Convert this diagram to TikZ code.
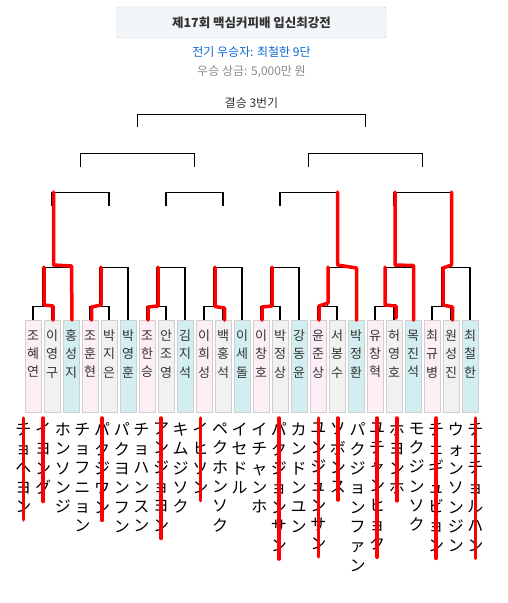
\documentclass[tikz,border=0pt]{standalone}
\usepackage{fontspec}
\setmainfont{Noto Sans CJK KR}
\newfontfamily\jpfont{Noto Sans CJK JP}
\usepackage{tikz}
\usetikzlibrary{positioning}
\definecolor{pinkfill}{HTML}{FCEEF4}
\definecolor{grayfill}{HTML}{F0F1F0}
\definecolor{cyanfill}{HTML}{D3EEF0}
\definecolor{boxline}{HTML}{CFCFCF}
\definecolor{titlefill}{HTML}{F3F6F9}
\definecolor{titleline}{HTML}{C6CACE}
\definecolor{champblue}{HTML}{0A66D2}
\definecolor{prizegray}{HTML}{8A8A8A}
\definecolor{textdark}{HTML}{333333}
\tikzstyle{titlebox} = [rectangle, rounded corners=2pt, 
minimum width=269pt, 
minimum height=31pt, 
fill=titlefill, draw=titleline, 
text=textdark, font=\bfseries\fontsize{12.5}{15}\selectfont]
\tikzstyle{infotext} = [inner sep=0pt, font=\fontsize{12}{14}\selectfont]
\tikzstyle{player} = [rectangle, 
minimum width=16pt, 
minimum height=92pt, 
inner sep=0pt, outer sep=0pt, 
text depth=25pt, align=center, 
draw=boxline, line width=0.8pt, 
text=textdark, font=\fontsize{13}{18.3}\selectfont]
\tikzstyle{pinkbox} = [player, fill=pinkfill]
\tikzstyle{graybox} = [player, fill=grayfill]
\tikzstyle{cyanbox} = [player, fill=cyanfill]
\tikzstyle{kana} = [inner sep=0pt, outer sep=0pt, minimum width=19.65pt, align=center, 
font=\jpfont\fontsize{16}{19.3}\selectfont]
\tikzstyle{bracket} = [draw=black, line width=1.5pt]
\tikzstyle{winner} = [draw=red, line width=3.5pt, line join=round, line cap=round]
\begin{document}
\begin{tikzpicture}[x=1pt, y=-1pt]
        \useasboundingbox (0,0) rectangle (507,603);

        % --- Encabezado ---
        \node (title) [titlebox] at (251.5,22.5) {제17회 맥심커피배 입신최강전};
        \node (champ) [infotext, text=champblue, below=8.5pt of title] {전기 우승자: 최철한 9단};
        \node (prize) [infotext, text=prizegray, below=7pt of champ] {우승 상금: 5,000만 원};
        \node (finlabel) [infotext, text=textdark] at (251.5,103) {결승 3번기};

        % --- Jugadores (fila de cajas) ---
        \node (hyeyeon) [pinkbox, anchor=north] at (33,320) {조\\혜\\연};
        \node (younggu) [graybox, right=3pt of hyeyeon] {이\\영\\구};
        \node (seongji) [cyanbox, right=3pt of younggu] {홍\\성\\지};
        \node (hunhyun) [pinkbox, right=3pt of seongji] {조\\훈\\현};
        \node (jieun) [graybox, right=3pt of hunhyun] {박\\지\\은};
        \node (younghun) [cyanbox, right=3pt of jieun] {박\\영\\훈};
        \node (hanseung) [pinkbox, right=3pt of younghun] {조\\한\\승};
        \node (joyoung) [graybox, right=3pt of hanseung] {안\\조\\영};
        \node (jiseok) [cyanbox, right=3pt of joyoung] {김\\지\\석};
        \node (heeseong) [pinkbox, right=3pt of jiseok] {이\\희\\성};
        \node (hongseok) [graybox, right=3pt of heeseong] {백\\홍\\석};
        \node (sedol) [cyanbox, right=3pt of hongseok] {이\\세\\돌};
        \node (changho) [pinkbox, right=3pt of sedol] {이\\창\\호};
        \node (jungsang) [graybox, right=3pt of changho] {박\\정\\상};
        \node (dongyun) [cyanbox, right=3pt of jungsang] {강\\동\\윤};
        \node (junsang) [pinkbox, right=3pt of dongyun] {윤\\준\\상};
        \node (bongsoo) [graybox, right=3pt of junsang] {서\\봉\\수};
        \node (junghwan) [cyanbox, right=3pt of bongsoo] {박\\정\\환};
        \node (changhyuk) [pinkbox, right=3pt of junghwan] {유\\창\\혁};
        \node (youngho) [graybox, right=3pt of changhyuk] {허\\영\\호};
        \node (jinseok) [cyanbox, right=3pt of youngho] {목\\진\\석};
        \node (kyubyung) [pinkbox, right=3pt of jinseok] {최\\규\\병};
        \node (seongjin) [graybox, right=3pt of kyubyung] {원\\성\\진};
        \node (cheolhan) [cyanbox, right=3pt of seongjin] {최\\철\\한};

        % --- Nombres en katakana ---
        \node (k_hyeyeon) [kana, anchor=north] at ([xshift=-9.5pt,yshift=-11pt]hyeyeon.south) {チ\\ョ\\ヘ\\ヨ\\ン};
        \node (k_younggu) [kana, anchor=north west] at (k_hyeyeon.north east) {イ\\ヨ\\ン\\グ};
        \node (k_seongji) [kana, anchor=north west] at (k_younggu.north east) {ホ\\ン\\ソ\\ン\\ジ};
        \node (k_hunhyun) [kana, anchor=north west] at (k_seongji.north east) {チ\\ョ\\フ\\ニ\\ョ\\ン};
        \node (k_jieun) [kana, anchor=north west] at (k_hunhyun.north east) {パ\\ク\\ジ\\ウ\\ン};
        \node (k_younghun) [kana, anchor=north west] at (k_jieun.north east) {パ\\ク\\ヨ\\ン\\フ\\ン};
        \node (k_hanseung) [kana, anchor=north west] at (k_younghun.north east) {チ\\ョ\\ハ\\ン\\ス\\ン};
        \node (k_joyoung) [kana, anchor=north west] at (k_hanseung.north east) {ア\\ン\\ジ\\ョ\\ヨ\\ン};
        \node (k_jiseok) [kana, anchor=north west] at (k_joyoung.north east) {キ\\ム\\ジ\\ソ\\ク};
        \node (k_heeseong) [kana, anchor=north west] at (k_jiseok.north east) {イ\\ヒ\\ソ\\ン};
        \node (k_hongseok) [kana, anchor=north west] at (k_heeseong.north east) {ペ\\ク\\ホ\\ン\\ソ\\ク};
        \node (k_sedol) [kana, anchor=north west] at (k_hongseok.north east) {イ\\セ\\ド\\ル};
        \node (k_changho) [kana, anchor=north west] at (k_sedol.north east) {イ\\チ\\ャ\\ン\\ホ};
        \node (k_jungsang) [kana, anchor=north west] at (k_changho.north east) {パ\\ク\\ジ\\ョ\\ン\\サ\\ン};
        \node (k_dongyun) [kana, anchor=north west] at (k_jungsang.north east) {カ\\ン\\ド\\ン\\ユ\\ン};
        \node (k_junsang) [kana, anchor=north west] at (k_dongyun.north east) {ユ\\ン\\ジ\\ュ\\ン\\サ\\ン};
        \node (k_bongsoo) [kana, anchor=north west] at (k_junsang.north east) {ソ\\ボ\\ン\\ス};
        \node (k_junghwan) [kana, anchor=north west] at (k_bongsoo.north east) {パ\\ク\\ジ\\ョ\\ン\\フ\\ァ\\ン};
        \node (k_changhyuk) [kana, anchor=north west] at (k_junghwan.north east) {ユ\\チ\\ャ\\ン\\ヒ\\ョ\\ク};
        \node (k_youngho) [kana, anchor=north west] at (k_changhyuk.north east) {ホ\\ヨ\\ン\\ホ};
        \node (k_jinseok) [kana, anchor=north west] at (k_youngho.north east) {モ\\ク\\ジ\\ン\\ソ\\ク};
        \node (k_kyubyung) [kana, anchor=north west] at (k_jinseok.north east) {チ\\ェ\\ギ\\ュ\\ビ\\ョ\\ン};
        \node (k_seongjin) [kana, anchor=north west] at (k_kyubyung.north east) {ウ\\ォ\\ン\\ソ\\ン\\ジ\\ン};
        \node (k_cheolhan) [kana, anchor=north west] at (k_seongjin.north east) {チ\\ェ\\チ\\ョ\\ル\\ハ\\ン};

        % --- Llaves: primera ronda (parejas) ---
        \draw [bracket] (hyeyeon.north) -- ++(0,-13.3) -| (younggu.north);
        \draw [bracket] (hunhyun.north) -- ++(0,-13.3) -| (jieun.north);
        \draw [bracket] (hanseung.north) -- ++(0,-13.3) -| (joyoung.north);
        \draw [bracket] (heeseong.north) -- ++(0,-13.3) -| (hongseok.north);
        \draw [bracket] (changho.north) -- ++(0,-13.3) -| (jungsang.north);
        \draw [bracket] (junsang.north) -- ++(0,-13.3) -| (bongsoo.north);
        \draw [bracket] (changhyuk.north) -- ++(0,-13.3) -| (youngho.north);
        \draw [bracket] (kyubyung.north) -- ++(0,-13.3) -| (seongjin.north);

        % --- Llaves: contra el tercero del grupo ---
        \draw [bracket] ([xshift=9.5pt,yshift=13.3pt]hyeyeon.north) -- ++(0,-39.4) -| (seongji.north);
        \draw [bracket] ([xshift=9.5pt,yshift=13.3pt]hunhyun.north) -- ++(0,-39.4) -| (younghun.north);
        \draw [bracket] ([xshift=9.5pt,yshift=13.3pt]hanseung.north) -- ++(0,-39.4) -| (jiseok.north);
        \draw [bracket] ([xshift=9.5pt,yshift=13.3pt]heeseong.north) -- ++(0,-39.4) -| (sedol.north);
        \draw [bracket] ([xshift=9.5pt,yshift=13.3pt]changho.north) -- ++(0,-39.4) -| (dongyun.north);
        \draw [bracket] ([xshift=9.5pt,yshift=13.3pt]junsang.north) -- ++(0,-39.4) -| (junghwan.north);
        \draw [bracket] ([xshift=9.5pt,yshift=13.3pt]changhyuk.north) -- ++(0,-39.4) -| (jinseok.north);
        \draw [bracket] ([xshift=9.5pt,yshift=13.3pt]kyubyung.north) -- ++(0,-39.4) -| (cheolhan.north);

        % --- Llaves: cuartos, semifinales y final ---
        \draw [bracket] ([yshift=114pt]younggu.north) -- ++(0,-13.7) -| ([yshift=114pt]jieun.north);
        \draw [bracket] ([yshift=114pt]joyoung.north) -- ++(0,-13.7) -| ([yshift=114pt]hongseok.north);
        \draw [bracket] ([yshift=114pt]jungsang.north) -- ++(0,-13.7) -| ([yshift=114pt]bongsoo.north);
        \draw [bracket] ([yshift=114pt]youngho.north) -- ++(0,-13.7) -| ([yshift=114pt]seongjin.north);
        \draw [bracket] ([xshift=9.5pt,yshift=153pt]seongji.north) -- ++(0,-13.7) -| ([xshift=9.5pt,yshift=153pt]jiseok.north);
        \draw [bracket] ([xshift=9.5pt,yshift=153pt]dongyun.north) -- ++(0,-13.7) -| ([xshift=9.5pt,yshift=153pt]jinseok.north);
        \draw [bracket] ([xshift=9.5pt,yshift=193pt]younghun.north) -- ++(0,-12.7) -| ([xshift=9.5pt,yshift=193pt]junghwan.north);

        % --- Trazos rojos (marcados a mano) ---
        \draw [winner] ([xshift=1pt]younggu.north) -- ++(0,-14) -- ++(-9,-1) -- ++(0,-38);
        \draw [winner] ([xshift=1.5pt,yshift=128pt]younggu.north) -- ++(0,73) -- ++(18,1) -- ([xshift=1pt]seongji.north);
        \draw [winner] ([xshift=1.5pt]hunhyun.north) -- ++(0,-13) -- ++(9.5,-2) -- ++(0,-38);
        \draw [winner] ([xshift=1pt]hanseung.north) -- ++(0,-13) -- ++(10,-1) -- ++(0,-39);
        \draw [winner] ([xshift=1.5pt]hongseok.north) -- ++(0,-12) -- ++(-9.5,-1.5) -- ++(0,-39.5);
        \draw [winner] ([xshift=1pt]changho.north) -- ++(0,-13) -- ++(10,-1) -- ++(0,-39);
        \draw [winner] ([xshift=1pt]junsang.north) -- ++(0,-14) -- ++(9,-3) -- ++(0,-36);
        \draw [winner] ([xshift=0.5pt,yshift=128pt]bongsoo.north) -- ++(0,73) -- ++(19,3) -- ([xshift=0.5pt]junghwan.north);
        \draw [winner] ([xshift=2pt,yshift=2pt]youngho.north) -- ++(0,-12) -- ++(-11,-1) -- ++(0,-38);
        \draw [winner] ([xshift=1pt,yshift=128pt]youngho.north) -- ++(0,73) -- ++(18.5,0.5) -- ([xshift=0.5pt]jinseok.north);
        \draw [winner] ([xshift=0.5pt,yshift=128pt]seongjin.north) -- ++(0,73) -- ++(-8.5,3) -- ++(0,37) -- ++(9.5,2) -- ([xshift=1.5pt]seongjin.north);

        % --- Tachados en los nombres ---
        \draw [winner] ([yshift=5pt]k_hyeyeon.north) -- ([yshift=-7pt]k_hyeyeon.south);
        \draw [winner] ([yshift=5pt]k_younggu.north) -- ([yshift=-7pt]k_younggu.south);
        \draw [winner] ([yshift=5pt]k_jieun.north) -- ([yshift=-7pt]k_jieun.south);
        \draw [winner] ([yshift=5pt]k_joyoung.north) -- ([yshift=-7pt]k_joyoung.south);
        \draw [winner] ([yshift=5pt]k_heeseong.north) -- ([yshift=-7pt]k_heeseong.south);
        \draw [winner] ([yshift=5pt]k_jungsang.north) -- ([yshift=-7pt]k_jungsang.south);
        \draw [winner] ([yshift=5pt]k_junsang.north) -- ([yshift=-7pt]k_junsang.south);
        \draw [winner] ([yshift=5pt]k_bongsoo.north) -- ([yshift=-7pt]k_bongsoo.south);
        \draw [winner] ([yshift=5pt]k_changhyuk.north) -- ([yshift=-7pt]k_changhyuk.south);
        \draw [winner] ([yshift=5pt]k_youngho.north) -- ([yshift=-7pt]k_youngho.south);
        \draw [winner] ([yshift=5pt]k_kyubyung.north) -- ([yshift=-7pt]k_kyubyung.south);
        \draw [winner] ([yshift=5pt]k_cheolhan.north) -- ([yshift=-7pt]k_cheolhan.south);

    \end{tikzpicture}
\end{document}
